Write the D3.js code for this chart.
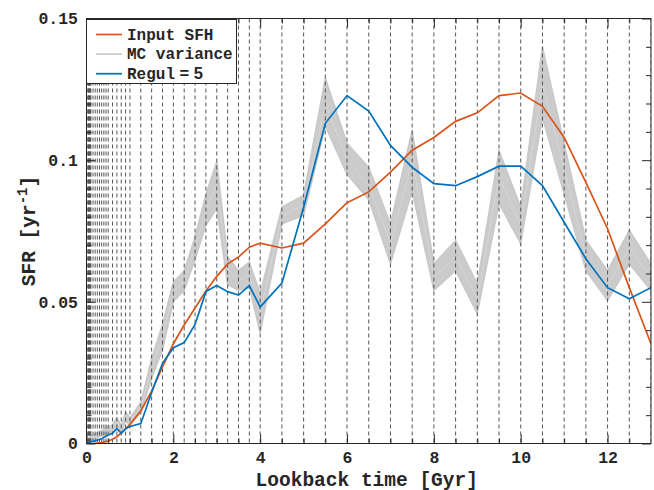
<!DOCTYPE html>
<html lang="en">
<head>
<meta charset="UTF-8">
<title>SFH recovery</title>
<script src="https://d3js.org/d3.v7.min.js"></script>
<style>
  body { margin: 0; background: #fff; }
  .tk text { font-family: "Liberation Mono", "DejaVu Sans Mono", monospace; font-weight: bold; font-size: 16.5px; fill: #262626; }
  .tk path, .tk line { stroke: #262626; }
</style>
</head>
<body>
<div id="chart"></div>
<script>
// age grid of the templates (Gyr)
var ages = [0.03, 0.04, 0.05, 0.06, 0.07, 0.08, 0.09, 0.1, 0.15, 0.2, 0.25, 0.3, 0.35, 0.4, 0.45, 0.5,
            0.6, 0.7, 0.8, 0.9, 1.0, 1.25, 1.5, 1.75, 2.0, 2.25, 2.5, 2.75, 3.0, 3.25, 3.5, 3.75, 4.0,
            4.5, 5.0, 5.5, 6.0, 6.5, 7.0, 7.5, 8.0, 8.5, 9.0, 9.5, 10.0, 10.5, 11.0, 11.5, 12.0, 12.5, 13.0];

var inputSFH = [0, 0, 0, 0, 0, 0, 0, 0, 0, 0, 0.0001, 0.0002, 0.0003, 0.0005, 0.0007, 0.0009,
                0.0015, 0.0024, 0.0037, 0.0052, 0.0068, 0.0115, 0.0185, 0.027, 0.0352, 0.0418, 0.0478, 0.0538, 0.059, 0.0634, 0.0658, 0.0693, 0.0707,
                0.069, 0.0707, 0.0775, 0.085, 0.0888, 0.0958, 0.1035, 0.108, 0.1137, 0.1167, 0.1228, 0.1237, 0.119, 0.108, 0.0922, 0.0758, 0.055, 0.0352];

var regul5 = [0, 0.0001, 0.0002, 0.0003, 0.0004, 0.0005, 0.0005, 0.0006, 0.0008, 0.001, 0.0012, 0.0014, 0.0017, 0.0022, 0.0026, 0.003,
              0.0036, 0.0052, 0.0036, 0.0052, 0.006, 0.007, 0.018, 0.0283, 0.0338, 0.0356, 0.042, 0.0536, 0.0558, 0.0536, 0.0524, 0.0557, 0.0482,
              0.0566, 0.0834, 0.113, 0.1228, 0.1173, 0.1052, 0.0975, 0.0917, 0.091, 0.0942, 0.0979, 0.0979, 0.091, 0.0781, 0.0652, 0.055, 0.0511, 0.055];

// spread of the Monte Carlo solutions: lower edge, middle, upper edge
var mcLow = [0, 0.0003, 0.0005, 0.0006, 0.0008, 0.001, 0.0011, 0.0012, 0.0015, 0.0018, 0.0021, 0.0024, 0.0027, 0.003, 0.0033, 0.0036,
             0.004, 0.0065, 0.0038, 0.008, 0.0062, 0.011, 0.023, 0.033, 0.05, 0.054, 0.065, 0.077, 0.083, 0.056, 0.054, 0.055, 0.039,
             0.0775, 0.0805, 0.112, 0.095, 0.086, 0.0634, 0.089, 0.054, 0.061, 0.0458, 0.0847, 0.0705, 0.115, 0.088, 0.061, 0.0505, 0.0634, 0.054];
var mcMid = [0.0005, 0.0008, 0.001, 0.0012, 0.0014, 0.0016, 0.0017, 0.0018, 0.0022, 0.0026, 0.003, 0.0033, 0.0036, 0.004, 0.0044, 0.0048,
             0.0053, 0.0078, 0.005, 0.0095, 0.0075, 0.0125, 0.0265, 0.0375, 0.0535, 0.0575, 0.069, 0.0825, 0.091, 0.0615, 0.0575, 0.0595, 0.046,
             0.0805, 0.084, 0.12, 0.1, 0.0915, 0.0705, 0.1, 0.0587, 0.066, 0.051, 0.094, 0.077, 0.127, 0.097, 0.066, 0.0557, 0.069, 0.059];
var mcHigh = [0.001, 0.0015, 0.0018, 0.002, 0.0022, 0.0024, 0.0025, 0.0026, 0.003, 0.0034, 0.0038, 0.0042, 0.0046, 0.005, 0.0055, 0.006,
              0.0066, 0.0092, 0.0062, 0.0112, 0.009, 0.0145, 0.03, 0.042, 0.057, 0.061, 0.073, 0.088, 0.0995, 0.066, 0.061, 0.064, 0.053,
              0.0835, 0.0876, 0.129, 0.106, 0.0975, 0.0776, 0.1105, 0.0634, 0.0717, 0.0564, 0.1034, 0.0834, 0.14, 0.106, 0.0717, 0.061, 0.0752, 0.0634];

var xMajor = [0, 2, 4, 6, 8, 10, 12];
var xMinor = [0.5, 1, 1.5, 2.5, 3, 3.5, 4.5, 5, 5.5, 6.5, 7, 7.5, 8.5, 9, 9.5, 10.5, 11, 11.5, 12.5];
var yMajor = [0, 0.05, 0.1, 0.15];
var yMinor = [0.01, 0.02, 0.03, 0.04, 0.06, 0.07, 0.08, 0.09, 0.11, 0.12, 0.13, 0.14];
var yLabels = ['0', '0.05', '0.1', '0.15'];

var width = 654, height = 490;
var pLeft = 86.5, pRight = 651, pTop = 18.5, pBottom = 443.5;

var svg = d3.select('#chart').append('svg')
    .attr('width', width)
    .attr('height', height);

var x = d3.scaleLinear().domain([0, 13]).range([pLeft, pRight]);
var y = d3.scaleLinear().domain([0, 0.15]).range([pBottom, pTop]);

svg.append('clipPath').attr('id', 'clip')
    .append('rect')
    .attr('x', pLeft).attr('y', pTop)
    .attr('width', pRight - pLeft).attr('height', pBottom - pTop);

var plot = svg.append('g').attr('clip-path', 'url(#clip)');

var line = function (vals) {
    return d3.line()
        .x((d, i) => x(ages[i]))
        .y(d => y(d))(vals);
};

// MC band
plot.append('path')
    .attr('d', d3.area()
        .x((d, i) => x(ages[i]))
        .y0((d, i) => y(mcLow[i]))
        .y1(d => y(d))(mcHigh))
    .attr('fill', '#cbcbcb');

[mcLow, mcHigh].forEach(function (s) {
    plot.append('path').attr('d', line(s))
        .attr('fill', 'none').attr('stroke', '#c8c8c8').attr('stroke-width', 1.4);
});
plot.append('path').attr('d', line(mcMid))
    .attr('fill', 'none').attr('stroke', '#d8d8d8').attr('stroke-width', 0.8);

// dashed age grid
plot.selectAll('.age')
    .data(ages)
    .enter()
    .append('line')
    .attr('x1', d => x(d)).attr('x2', d => x(d))
    .attr('y1', pTop).attr('y2', pBottom)
    .attr('stroke', '#555555')
    .attr('stroke-width', 1)
    .attr('stroke-dasharray', '4,3');

plot.append('path').attr('d', line(inputSFH))
    .attr('fill', 'none').attr('stroke', '#D95319').attr('stroke-width', 1.7);
plot.append('path').attr('d', line(regul5))
    .attr('fill', 'none').attr('stroke', '#0072BD').attr('stroke-width', 1.7);

// axes (ticks pointing inwards)
function addAxis(axis, tx, ty) {
    var g = svg.append('g').attr('class', 'tk')
        .attr('transform', 'translate(' + tx + ',' + ty + ')')
        .call(axis);
    g.select('.domain').remove();
    return g;
}

addAxis(d3.axisBottom(x).tickValues(xMajor).tickSize(-9).tickPadding(8).tickFormat(d3.format('d')), 0, pBottom);
addAxis(d3.axisBottom(x).tickValues(xMinor).tickSize(-5).tickFormat(''), 0, pBottom);
addAxis(d3.axisTop(x).tickValues(xMajor).tickSize(-9).tickFormat(''), 0, pTop);
addAxis(d3.axisTop(x).tickValues(xMinor).tickSize(-5).tickFormat(''), 0, pTop);

addAxis(d3.axisLeft(y).tickValues(yMajor).tickSize(-9).tickPadding(8.5).tickFormat((d, i) => yLabels[i]), pLeft, 0);
addAxis(d3.axisLeft(y).tickValues(yMinor).tickSize(-5).tickFormat(''), pLeft, 0);
addAxis(d3.axisRight(y).tickValues(yMajor).tickSize(-9).tickFormat(''), pRight, 0);
addAxis(d3.axisRight(y).tickValues(yMinor).tickSize(-5).tickFormat(''), pRight, 0);

svg.append('rect')
    .attr('x', pLeft).attr('y', pTop)
    .attr('width', pRight - pLeft).attr('height', pBottom - pTop)
    .attr('fill', 'none').attr('stroke', '#262626').attr('stroke-width', 1);

// axis labels
var mono = '"Liberation Mono", "DejaVu Sans Mono", monospace';
svg.append('text')
    .attr('x', (pLeft + pRight) / 2 - 2).attr('y', 485.5)
    .attr('text-anchor', 'middle')
    .style('font-family', mono).style('font-weight', 'bold').style('font-size', '19.5px')
    .attr('fill', '#262626')
    .text('Lookback time [Gyr]');

var yl = svg.append('text')
    .attr('transform', 'translate(35,' + ((pTop + pBottom) / 2) + ') rotate(-90)')
    .attr('text-anchor', 'middle')
    .style('font-family', mono).style('font-weight', 'bold').style('font-size', '19.5px')
    .attr('fill', '#262626');
yl.append('tspan').text('SFR [yr');
yl.append('tspan').attr('dy', -8).style('font-size', '14px').text('-1');
yl.append('tspan').attr('dy', 8).text(']');

// legend
var legendItems = [
    { name: 'Input SFH', color: '#D95319' },
    { name: 'MC variance', color: '#cccccc' },
    { name: 'Regul', color: '#0072BD', extra: ' = 5' }
];
var lg = svg.append('g');
lg.append('rect')
    .attr('x', 86.5).attr('y', 19.5).attr('width', 150).attr('height', 64)
    .attr('fill', '#fff').attr('stroke', '#262626').attr('stroke-width', 1);
legendItems.forEach(function (d, i) {
    var ly = 34.5 + i * 19.6;
    lg.append('line')
        .attr('x1', 96).attr('x2', 122).attr('y1', ly).attr('y2', ly)
        .attr('stroke', d.color).attr('stroke-width', 1.7);
    var t = lg.append('text')
        .attr('x', 127).attr('y', ly + 5)
        .style('font-family', mono).style('font-weight', 'bold').style('font-size', '16px')
        .attr('fill', '#262626')
        .text(d.name);
    if (d.extra) {
        t.append('tspan')
            .style('font-family', '"Liberation Sans", Arial, sans-serif')
            .style('font-size', '16.5px')
            .text(d.extra);
    }
});
</script>
</body>
</html>
